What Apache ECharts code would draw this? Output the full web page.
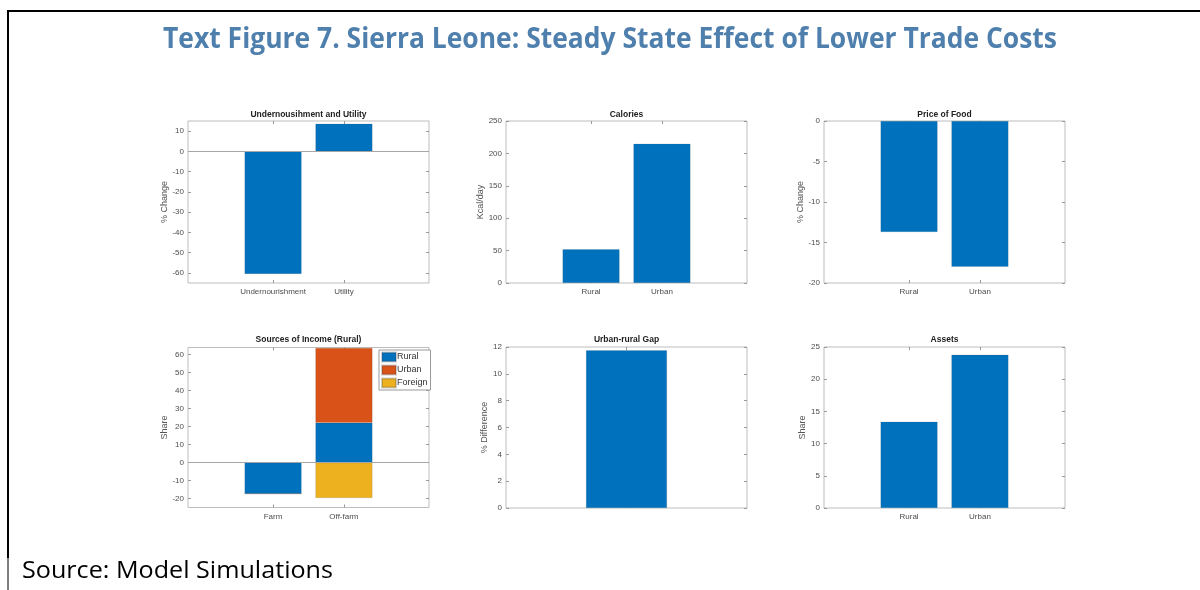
<!DOCTYPE html>
<html>
<head>
<meta charset="utf-8">
<script src="https://cdn.jsdelivr.net/npm/echarts@6/dist/echarts.min.js"></script>
<style>
  html, body { margin: 0; padding: 0; background: #fff; }
  #chart { width: 1200px; height: 590px; }
</style>
</head>
<body>
<div id="chart"></div>
<script>
// ---- data ----
const utilityCats = ["Undernourishment", "Utility"];
const utilityVals = [-60.5, 13.7];

const areaCats = ["Rural", "Urban"];
const caloriesVals = [52, 215];
const foodPriceVals = [-13.7, -18];
const assetsVals = [13.4, 23.8];

const incomeCats = ["Farm", "Off-farm"];
const incomeRural = [-17.3, 22.1];
const incomeUrban = [0, 41.6];
const incomeForeign = [0, -19.7];

const gapVals = [11.75];

const utilityTicks = [-60, -50, -40, -30, -20, -10, 0, 10];
const incomeTicks = [-20, -10, 0, 10, 20, 30, 40, 50, 60];

// ---- style ----
const BLUE = "#0072BD";
const ORANGE = "#D95319";
const YELLOW = "#EDB120";
const BOX = "#bdbdbd";
const TICK_TEXT = "#4d4d4d";
const FONT = "Liberation Sans";

const canvas = document.createElement("canvas");
const ctx = canvas.getContext("2d");
const fitScale = (text, font, width) => {
  ctx.font = font;
  return width / ctx.measureText(text).width;
};

// panel layout: [left, top, width, height]
const panels = [
  { rect: [188, 121, 241, 162], title: "Undernousihment and Utility", titleY: 115,
    yName: "% Change", nameGap: 16, yMin: -65, yMax: 15, yTicks: utilityTicks,
    xMin: -0.2, xMax: 3.2, cats: utilityCats },
  { rect: [506, 121, 241, 162], title: "Calories", titleY: 114.5,
    yName: "Kcal/day", nameGap: 19, yMin: 0, yMax: 250, interval: 50,
    xMin: -0.2, xMax: 3.2, cats: areaCats },
  { rect: [824, 121, 241, 162], title: "Price of Food", titleY: 114.5,
    yName: "% Change", nameGap: 17, yMin: -20, yMax: 0, interval: 5,
    xMin: -0.2, xMax: 3.2, cats: areaCats },
  { rect: [188, 347.5, 241, 160], title: "Sources of Income (Rural)", titleY: 339.5,
    yName: "Share", nameGap: 17, yMin: -25, yMax: 64, yTicks: incomeTicks,
    xMin: -0.2, xMax: 3.2, cats: incomeCats },
  { rect: [506, 347, 241, 161], title: "Urban-rural Gap", titleY: 340,
    yName: "% Difference", nameGap: 14, yMin: 0, yMax: 12, interval: 2,
    xMin: 0, xMax: 2, cats: [""] },
  { rect: [824, 347, 241, 161], title: "Assets", titleY: 340,
    yName: "Share", nameGap: 14.5, yMin: 0, yMax: 25, interval: 5,
    xMin: -0.2, xMax: 3.2, cats: areaCats },
];

const grids = panels.map((p) => ({
  left: p.rect[0], top: p.rect[1], width: p.rect[2], height: p.rect[3],
  show: true, borderColor: BOX, borderWidth: 1, backgroundColor: "#fff",
}));

const tickStyle = { show: true, inside: true, length: 3, lineStyle: { color: "#999" } };

// bottom/left axes carry labels; top/right copies only mirror the ticks (MATLAB box style)
const xAxes = [];
const yAxes = [];
[false, true].forEach((mirror) => {
  panels.forEach((p, i) => {
    const xs = p.cats.map((_, k) => k + 1);
    xAxes.push({
      gridIndex: i, type: "value", min: p.xMin, max: p.xMax,
      position: mirror ? "top" : "bottom",
      axisLine: { show: false, onZero: false }, splitLine: { show: false },
      axisTick: Object.assign({}, tickStyle, { customValues: xs }),
      axisLabel: {
        show: !mirror, customValues: xs, fontSize: 8, color: TICK_TEXT, fontFamily: FONT, margin: 5,
        formatter: (v) => p.cats[Math.round(v) - 1] ?? "",
      },
    });

    const ax = {
      gridIndex: i, type: "value", min: p.yMin, max: p.yMax,
      position: mirror ? "right" : "left",
      axisLine: { show: false, onZero: false }, splitLine: { show: false },
      axisTick: Object.assign({}, tickStyle),
      axisLabel: { show: !mirror, fontSize: 8, color: TICK_TEXT, fontFamily: FONT, margin: 4 },
    };
    if (!mirror) {
      ax.name = p.yName;
      ax.nameLocation = "middle";
      ax.nameGap = p.nameGap;
      ax.nameTextStyle = { fontSize: 9, color: "#555", fontFamily: FONT };
    }
    if (p.yTicks) {
      ax.axisTick.customValues = p.yTicks;
      ax.axisLabel.customValues = p.yTicks;
    } else {
      ax.interval = p.interval;
    }
    yAxes.push(ax);
  });
});

// value first, position second, so stacking runs on the value dimension
const pairs = (vals) => vals.map((v, k) => [v, k + 1]);
const zeroLine = {
  silent: true, symbol: "none", label: { show: false },
  lineStyle: { color: "#a6a6a6", width: 1, type: "solid" },
  data: [{ yAxis: 0 }],
};
const bar = (name, idx, vals, color, extra) => Object.assign({
  name, type: "bar", xAxisIndex: idx, yAxisIndex: idx, data: pairs(vals),
  encode: { x: 1, y: 0 },
  barWidth: 57, itemStyle: { color, borderColor: "rgba(60,60,60,0.25)", borderWidth: 0.5 },
}, extra || {});

const series = [
  bar("Undernourishment and Utility", 0, utilityVals, BLUE, { markLine: zeroLine }),
  bar("Calories", 1, caloriesVals, BLUE),
  bar("Price of Food", 2, foodPriceVals, BLUE),
  bar("Rural", 3, incomeRural, BLUE, { stack: "income", markLine: zeroLine }),
  bar("Urban", 3, incomeUrban, ORANGE, { stack: "income" }),
  bar("Foreign", 3, incomeForeign, YELLOW, { stack: "income" }),
  bar("Urban-rural Gap", 4, gapVals, BLUE, { barWidth: 81 }),
  bar("Assets", 5, assetsVals, BLUE),
];

const mainTitle = "Text Figure 7. Sierra Leone: Steady State Effect of Lower Trade Costs";
const mainFont = 'bold 29px "Open Sans"';
const sourceText = "Source: Model Simulations";
const sourceFont = '23px "Open Sans"';

const graphics = [
  { type: "line", shape: { x1: 7, y1: 11, x2: 1200, y2: 11 }, style: { stroke: "#000", lineWidth: 2 } },
  { type: "line", shape: { x1: 8, y1: 10, x2: 8, y2: 558 }, style: { stroke: "#000", lineWidth: 2 } },
  { type: "line", shape: { x1: 8, y1: 558, x2: 8, y2: 590 }, style: { stroke: "#000", lineWidth: 1 } },
  {
    type: "text", x: 610, y: 40, scaleX: fitScale(mainTitle, mainFont, 894),
    style: { text: mainTitle, font: mainFont, fill: "#4f80ad", textAlign: "center", align: "center",
      textVerticalAlign: "middle", verticalAlign: "middle" },
  },
  {
    type: "text", x: 22, y: 571, scaleX: fitScale(sourceText, sourceFont, 311),
    style: { text: sourceText, font: sourceFont, fill: "#000", textAlign: "left", align: "left",
      textVerticalAlign: "middle", verticalAlign: "middle" },
  },
];
panels.forEach((p) => {
  graphics.push({
    type: "text", x: p.rect[0] + p.rect[2] / 2, y: p.titleY,
    style: { text: p.title, font: `bold 8.5px "${FONT}"`, fill: "#222", textAlign: "center", align: "center",
      textVerticalAlign: "middle", verticalAlign: "middle" },
  });
});

const chart = echarts.init(document.getElementById("chart"), null, { renderer: "canvas" });
chart.setOption({
  animation: false,
  backgroundColor: "#fff",
  grid: grids,
  xAxis: xAxes,
  yAxis: yAxes,
  legend: {
    data: ["Rural", "Urban", "Foreign"],
    orient: "vertical", left: 379, top: 350,
    itemWidth: 14, itemHeight: 9, itemGap: 2, padding: [1.5, 3, 1.5, 2],
    icon: "rect", selectedMode: false,
    backgroundColor: "#fff", borderColor: "#999", borderWidth: 1,
    textStyle: { fontSize: 9, color: "#333", fontFamily: FONT, padding: [0, 0, 0, -4] },
  },
  series,
  graphic: graphics,
});
</script>
</body>
</html>
